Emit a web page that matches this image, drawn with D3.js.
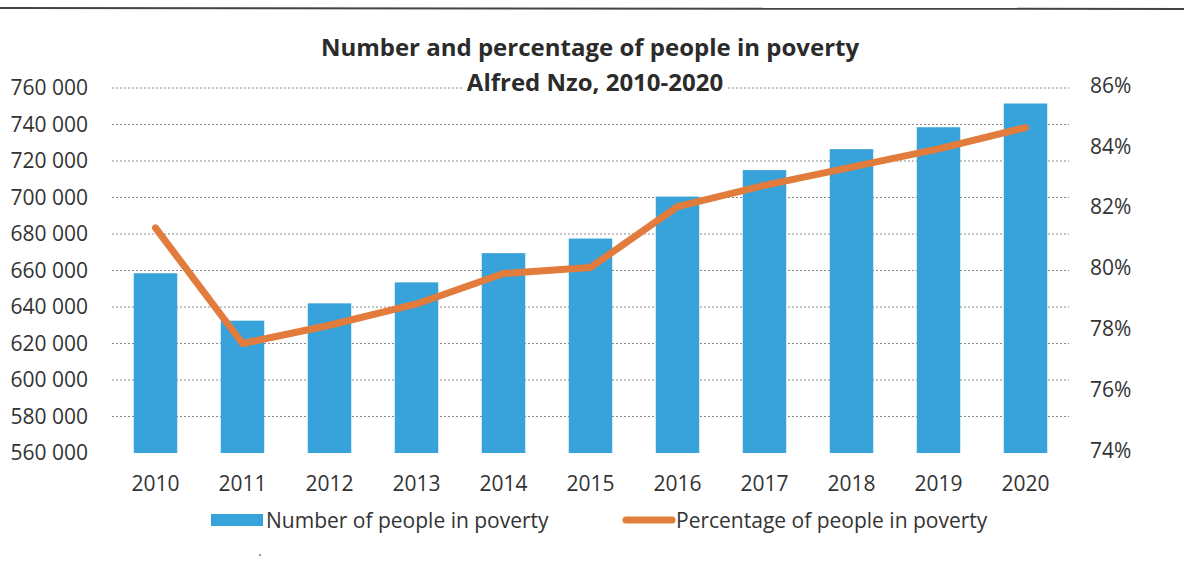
<!DOCTYPE html>
<html>
<head>
<meta charset="utf-8">
<script src="https://cdn.jsdelivr.net/npm/d3@7"></script>
<style>
  body { margin: 0; background: #fff; }
  svg { display: block; font-family: 'Open Sans', sans-serif; }
</style>
</head>
<body>
<svg id="chart"></svg>
<script>
// data
const years = ['2010', '2011', '2012', '2013', '2014', '2015', '2016', '2017', '2018', '2019', '2020']
const peopleInPoverty = [658500, 632500, 642000, 653500, 669500, 677500, 700500, 715000, 726500, 738500, 751500]
const percentInPoverty = [81.4, 77.6, 78.2, 78.9, 79.9, 80.1, 82.1, 82.8, 83.4, 84.0, 84.7]
const leftTicks = [560000, 580000, 600000, 620000, 640000, 660000, 680000, 700000, 720000, 740000, 760000]
const rightTicks = [74, 76, 78, 80, 82, 84, 86]

const width = 1184
const height = 565

const svg = d3.select('#chart').attr('width', width).attr('height', height)

// scanned page border line at top
svg.append('line')
  .attr('x1', 0).attr('x2', width)
  .attr('y1', 8).attr('y2', 9)
  .attr('stroke', '#444').attr('stroke-width', 2)

const plot = { left: 112, right: 1069, top: 88, bottom: 453 }

const x = d3.scaleBand().domain(years).range([plot.left, plot.right]).paddingInner(0.5).paddingOuter(0.25)
const yLeft = d3.scaleLinear().domain([560000, 760000]).range([plot.bottom, plot.top])
const yRight = d3.scaleLinear().domain([74, 86]).range([plot.bottom, plot.top])

// --------------------------------------------------------------
// gridlines
svg.append('g')
  .selectAll('line')
  .data(leftTicks.slice(1))
  .join('line')
  .attr('x1', plot.left).attr('x2', plot.right)
  .attr('y1', (d) => yLeft(d)).attr('y2', (d) => yLeft(d))
  .attr('stroke', '#8a8a8a')
  .attr('stroke-width', 1)
  .attr('stroke-dasharray', '2,2')

// --------------------------------------------------------------
// axes
const fmt = (d) => d3.format(',')(d).replace(',', ' ')

const leftAxis = svg.append('g')
  .attr('transform', `translate(${plot.left},0)`)
  .call(d3.axisLeft(yLeft).tickValues(leftTicks).tickFormat(fmt).tickSize(0).tickPadding(24))
leftAxis.select('.domain').remove()
leftAxis.selectAll('text').attr('font-size', 21).attr('fill', '#333').attr('font-family', 'Open Sans')

const rightAxis = svg.append('g')
  .attr('transform', `translate(${plot.right},0)`)
  .call(d3.axisRight(yRight).tickValues(rightTicks).tickFormat((d) => d + '%').tickSize(0).tickPadding(21))
rightAxis.select('.domain').remove()
rightAxis.selectAll('text').attr('font-size', 21).attr('fill', '#333').attr('font-family', 'Open Sans').attr('dy', '0.2em')

const xAxis = svg.append('g')
  .attr('transform', `translate(0,${plot.bottom})`)
  .call(d3.axisBottom(x).tickSize(0).tickPadding(23))
xAxis.select('.domain').remove()
xAxis.selectAll('text').attr('font-size', 21).attr('fill', '#333').attr('font-family', 'Open Sans')

// --------------------------------------------------------------
// bars
svg.append('g')
  .selectAll('rect')
  .data(years)
  .join('rect')
  .attr('x', (d) => x(d))
  .attr('width', x.bandwidth())
  .attr('y', (d, i) => yLeft(peopleInPoverty[i]))
  .attr('height', (d, i) => plot.bottom - yLeft(peopleInPoverty[i]))
  .attr('fill', '#38a3da')

// --------------------------------------------------------------
// line
const line = d3.line()
  .x((d, i) => x(years[i]) + x.bandwidth() / 2)
  .y((d) => yRight(d))

svg.append('path')
  .datum(percentInPoverty)
  .attr('d', line)
  .attr('fill', 'none')
  .attr('stroke', '#e27c3c')
  .attr('stroke-width', 7)
  .attr('stroke-linejoin', 'round')
  .attr('stroke-linecap', 'round')

// --------------------------------------------------------------
// title (white box behind it hides the gridline)
const title = svg.append('g').attr('font-weight', 'bold').attr('fill', '#2b2b2b').attr('text-anchor', 'middle')
const t2 = title.append('text').attr('x', 595).attr('y', 91).attr('font-size', 24).text('Alfred Nzo, 2010-2020')
const bb = t2.node().getBBox()
title.insert('rect', 'text')
  .attr('x', bb.x - 4).attr('y', bb.y).attr('width', bb.width + 8).attr('height', bb.height)
  .attr('fill', '#fff')
title.append('text').attr('x', 590).attr('y', 56).attr('font-size', 24).text('Number and percentage of people in poverty')

// --------------------------------------------------------------
// legend
const legend = svg.append('g').attr('font-size', 21).attr('fill', '#333')
legend.append('rect').attr('x', 211).attr('y', 514).attr('width', 52).attr('height', 12).attr('fill', '#38a3da')
legend.append('text').attr('x', 266).attr('y', 528).text('Number of people in poverty')
legend.append('line')
  .attr('x1', 626).attr('x2', 672).attr('y1', 520).attr('y2', 520)
  .attr('stroke', '#e27c3c').attr('stroke-width', 7).attr('stroke-linecap', 'round')
legend.append('text').attr('x', 676).attr('y', 528).text('Percentage of people in poverty')

// stray speck from the scan
svg.append('circle').attr('cx', 260).attr('cy', 555).attr('r', 1).attr('fill', '#777')
</script>
</body>
</html>
